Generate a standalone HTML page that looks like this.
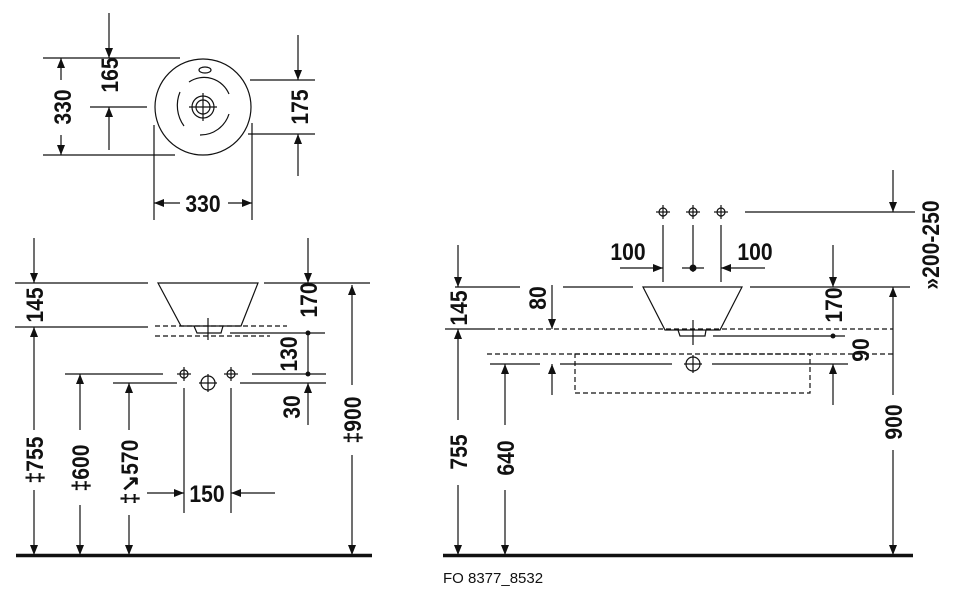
<!DOCTYPE html>
<html><head><meta charset="utf-8"><style>
html,body{margin:0;padding:0;background:#fff}
svg{display:block}
text{font-family:"Liberation Sans",sans-serif;font-weight:bold;font-size:24px;fill:#111}
</style></head><body>
<svg width="960" height="594" viewBox="0 0 960 594" xmlns="http://www.w3.org/2000/svg">
<defs>
<marker id="a" markerWidth="10" markerHeight="8" refX="10" refY="4" orient="auto" markerUnits="userSpaceOnUse">
<path d="M0,0 L10,4 L0,8 z" fill="#111"/></marker>
</defs>
<g stroke="#111" stroke-width="1.2" fill="none">
<circle cx="203" cy="107" r="48"/>
<ellipse cx="205" cy="70" rx="6" ry="3"/>
<circle cx="203" cy="107" r="11"/>
<circle cx="203" cy="107" r="7"/>
<line x1="189" y1="107" x2="217" y2="107"/><line x1="203" y1="93" x2="203" y2="121"/>
<path d="M189,82 A27,27 0 0 1 229,94"/>
<path d="M184,126 A35,35 0 0 1 180,92"/>
<path d="M200,135 A30,30 0 0 0 229,114"/>
<line x1="43" y1="58" x2="180" y2="58"/>
<line x1="43" y1="155" x2="175" y2="155"/>
<line x1="61" y1="80" x2="61" y2="58" marker-end="url(#a)"/>
<line x1="61" y1="135" x2="61" y2="155" marker-end="url(#a)"/>
<line x1="109" y1="13" x2="109" y2="58" marker-end="url(#a)"/>
<line x1="90" y1="107" x2="147" y2="107"/>
<line x1="109" y1="150" x2="109" y2="107" marker-end="url(#a)"/>
<line x1="250" y1="80" x2="315" y2="80"/>
<line x1="248" y1="134" x2="315" y2="134"/>
<line x1="298" y1="35" x2="298" y2="80" marker-end="url(#a)"/>
<line x1="298" y1="176" x2="298" y2="134" marker-end="url(#a)"/>
<line x1="154" y1="125" x2="154" y2="220"/>
<line x1="252" y1="123" x2="252" y2="220"/>
<line x1="180" y1="203" x2="154" y2="203" marker-end="url(#a)"/>
<line x1="228" y1="203" x2="252" y2="203" marker-end="url(#a)"/>

<line x1="15" y1="283" x2="148" y2="283"/>
<line x1="264" y1="283" x2="370" y2="283"/>
<line x1="15" y1="327" x2="148" y2="327"/>
<path d="M158,283 L258,283 L241,326 L181,326 Z"/>
<path d="M194,326 L197,333 L221,333 L223,326"/>
<line x1="208" y1="318" x2="208" y2="340"/>
<line x1="155" y1="326" x2="287" y2="326" stroke-dasharray="5,3"/>
<line x1="155" y1="336" x2="270" y2="336" stroke-dasharray="5,3"/>
<line x1="230" y1="333" x2="325" y2="333"/>
<line x1="34" y1="238" x2="34" y2="283" marker-end="url(#a)"/>
<line x1="34" y1="430" x2="34" y2="327" marker-end="url(#a)"/>
<line x1="34" y1="490" x2="34" y2="555" marker-end="url(#a)"/>
<line x1="308" y1="238" x2="308" y2="283" marker-end="url(#a)"/>
<line x1="308" y1="333" x2="308" y2="374"/>
<line x1="252" y1="374" x2="326" y2="374"/>
<line x1="240" y1="383" x2="326" y2="383"/>
<line x1="308" y1="425" x2="308" y2="383" marker-end="url(#a)"/>
<line x1="65" y1="374" x2="163" y2="374"/>
<line x1="113" y1="383" x2="177" y2="383"/>
<circle cx="184" cy="374" r="4"/><line x1="177" y1="374" x2="191" y2="374"/><line x1="184" y1="367" x2="184" y2="381"/>
<circle cx="231" cy="374" r="4"/><line x1="224" y1="374" x2="238" y2="374"/><line x1="231" y1="367" x2="231" y2="381"/>
<circle cx="208" cy="383" r="7"/><line x1="199" y1="383" x2="217" y2="383"/><line x1="208" y1="374" x2="208" y2="392"/>
<line x1="184" y1="388" x2="184" y2="513"/>
<line x1="231" y1="388" x2="231" y2="513"/>
<line x1="147" y1="493" x2="184" y2="493" marker-end="url(#a)"/>
<line x1="275" y1="493" x2="231" y2="493" marker-end="url(#a)"/>
<line x1="80" y1="430" x2="80" y2="374" marker-end="url(#a)"/>
<line x1="80" y1="505" x2="80" y2="555" marker-end="url(#a)"/>
<line x1="129" y1="430" x2="129" y2="383" marker-end="url(#a)"/>
<line x1="129" y1="515" x2="129" y2="555" marker-end="url(#a)"/>
<line x1="352" y1="385" x2="352" y2="285" marker-end="url(#a)"/>
<line x1="352" y1="455" x2="352" y2="555" marker-end="url(#a)"/>
<line x1="16" y1="555.5" x2="372" y2="555.5" stroke-width="3.5"/>

<line x1="455" y1="287" x2="520" y2="287"/>
<line x1="563" y1="287" x2="633" y2="287"/>
<line x1="750" y1="287" x2="910" y2="287"/>
<path d="M643,287 L742,287 L720,330 L665,330 Z"/>
<path d="M678,330 L680,336 L705,336 L706,330"/>
<line x1="693" y1="320" x2="693" y2="345"/>
<circle cx="663" cy="212" r="4"/><line x1="656" y1="212" x2="670" y2="212"/><line x1="663" y1="205" x2="663" y2="219"/>
<circle cx="693" cy="212" r="4"/><line x1="686" y1="212" x2="700" y2="212"/><line x1="693" y1="205" x2="693" y2="219"/>
<circle cx="721" cy="212" r="4"/><line x1="714" y1="212" x2="728" y2="212"/><line x1="721" y1="205" x2="721" y2="219"/>
<line x1="745" y1="212" x2="915" y2="212"/>
<line x1="893" y1="170" x2="893" y2="212" marker-end="url(#a)"/>
<line x1="893" y1="395" x2="893" y2="287" marker-end="url(#a)"/>
<line x1="893" y1="450" x2="893" y2="555" marker-end="url(#a)"/>
<line x1="663" y1="225" x2="663" y2="282"/>
<line x1="721" y1="225" x2="721" y2="282"/>
<line x1="693" y1="225" x2="693" y2="272"/>
<line x1="682" y1="268" x2="704" y2="268"/>
<line x1="620" y1="268" x2="663" y2="268" marker-end="url(#a)"/>
<line x1="765" y1="268" x2="721" y2="268" marker-end="url(#a)"/>
<line x1="458" y1="245" x2="458" y2="287" marker-end="url(#a)"/>
<line x1="445" y1="329" x2="490" y2="329"/>
<line x1="490" y1="329" x2="893" y2="329" stroke-dasharray="5,3"/>
<line x1="552" y1="285" x2="552" y2="329" marker-end="url(#a)"/>
<line x1="833" y1="245" x2="833" y2="287" marker-end="url(#a)"/>
<line x1="713" y1="336" x2="845" y2="336"/>
<line x1="487" y1="354" x2="662" y2="354" stroke-dasharray="5,3"/>
<line x1="720" y1="354" x2="893" y2="354" stroke-dasharray="5,3"/>
<line x1="490" y1="364" x2="540" y2="364"/>
<line x1="560" y1="364" x2="672" y2="364"/>
<line x1="712" y1="364" x2="848" y2="364"/>
<circle cx="693" cy="364" r="7"/><line x1="684" y1="364" x2="702" y2="364"/><line x1="693" y1="355" x2="693" y2="373"/>
<line x1="552" y1="395" x2="552" y2="364" marker-end="url(#a)"/>
<line x1="833" y1="405" x2="833" y2="364" marker-end="url(#a)"/>
<rect x="575" y="354" width="235" height="39" stroke-dasharray="5,3"/>
<line x1="458" y1="420" x2="458" y2="329" marker-end="url(#a)"/>
<line x1="458" y1="485" x2="458" y2="555" marker-end="url(#a)"/>
<line x1="505" y1="425" x2="505" y2="364" marker-end="url(#a)"/>
<line x1="505" y1="490" x2="505" y2="555" marker-end="url(#a)"/>
<line x1="443" y1="555.5" x2="913" y2="555.5" stroke-width="3.5"/>
</g>
<g fill="#111" stroke="none">
<circle cx="308" cy="333" r="2.5"/><circle cx="308" cy="374" r="2.5"/>
<circle cx="693" cy="268" r="3.5"/><circle cx="833" cy="336" r="2.5"/>
</g>
<text transform="translate(203,212) scale(0.88,1)" text-anchor="middle">330</text>
<text transform="translate(71,107) rotate(-90) scale(0.88,1)" text-anchor="middle">330</text>
<text transform="translate(118,75) rotate(-90) scale(0.88,1)" text-anchor="middle">165</text>
<text transform="translate(308,107) rotate(-90) scale(0.88,1)" text-anchor="middle">175</text>
<text transform="translate(43,305) rotate(-90) scale(0.88,1)" text-anchor="middle">145</text>
<text transform="translate(317,300) rotate(-90) scale(0.88,1)" text-anchor="middle">170</text>
<text transform="translate(297,354) rotate(-90) scale(0.88,1)" text-anchor="middle">130</text>
<text transform="translate(300,407) rotate(-90) scale(0.88,1)" text-anchor="middle">30</text>
<text transform="translate(43,460) rotate(-90) scale(0.88,1)" text-anchor="middle">‡755</text>
<text transform="translate(89,468) rotate(-90) scale(0.88,1)" text-anchor="middle">‡600</text>
<text transform="translate(138,472) rotate(-90) scale(0.88,1)" text-anchor="middle">‡↘570</text>
<text transform="translate(361,420) rotate(-90) scale(0.88,1)" text-anchor="middle">‡900</text>
<text transform="translate(207,502) scale(0.88,1)" text-anchor="middle">150</text>
<text transform="translate(628,260) scale(0.88,1)" text-anchor="middle">100</text>
<text transform="translate(755,260) scale(0.88,1)" text-anchor="middle">100</text>
<text transform="translate(467,308) rotate(-90) scale(0.88,1)" text-anchor="middle">145</text>
<text transform="translate(546,298) rotate(-90) scale(0.88,1)" text-anchor="middle">80</text>
<text transform="translate(842,305) rotate(-90) scale(0.88,1)" text-anchor="middle">170</text>
<text transform="translate(869,350) rotate(-90) scale(0.88,1)" text-anchor="middle">90</text>
<text transform="translate(467,452) rotate(-90) scale(0.88,1)" text-anchor="middle">755</text>
<text transform="translate(514,458) rotate(-90) scale(0.88,1)" text-anchor="middle">640</text>
<text transform="translate(902,422) rotate(-90) scale(0.88,1)" text-anchor="middle">900</text>
<text transform="translate(939,245) rotate(-90) scale(0.88,1)" text-anchor="middle">»200-250</text>
<text x="443" y="583" style="font-size:15px;font-weight:normal">FO 8377_8532</text>
</svg>
</body></html>
